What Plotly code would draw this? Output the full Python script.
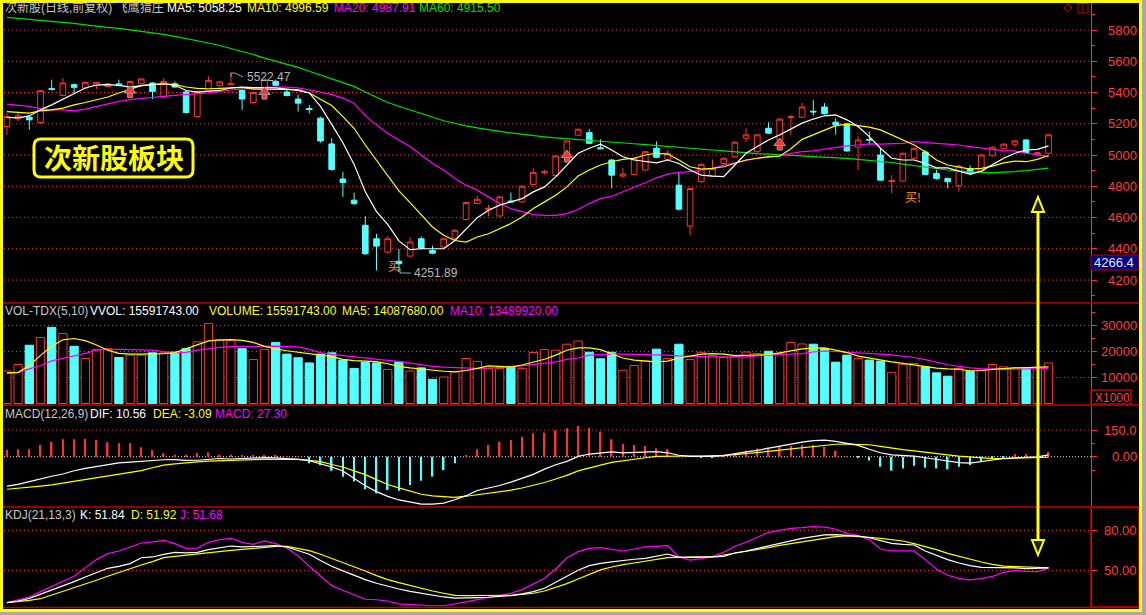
import plotly.graph_objects as go

# ---------------- data ----------------
days = list(range(94))

open_ = [5182,5231,5242,5208,5425,5381,5450,5429,5444,5439,
         5455,5429,5457,5461,5371,5456,5403,5246,5413,5444,
         5450,5413,5336,5413,5471,5403,5358,5297,5236,5071,
         4846,4711,4550,4464,4378,4320,4353,4464,4389,4411,
         4464,4587,4689,4650,4610,4705,4700,4811,4886,4869,
         4989,5127,5143,5046,4968,4865,4876,4904,5043,4972,
         4807,4545,4829,4865,4946,4989,5107,5021,5171,5096,
         5240,5242,5280,5307,5210,5199,5050,5100,5000,4830,
         4833,4979,5019,4882,4850,4803,4914,4893,4996,5043,
         5069,5096,5000,5011]
high = [5270,5278,5250,5413,5482,5493,5458,5470,5470,5462,
        5482,5475,5492,5466,5493,5470,5410,5412,5503,5475,
        5522.47,5420,5405,5488,5478,5420,5386,5320,5245,5107,
        4893,4760,4608,4496,4479,4400,4475,4480,4420,4470,
        4525,4700,4740,4680,4740,4760,4805,4915,4905,5000,
        5095,5170,5165,5101,4975,4918,4985,5025,5086,5032,
        4886,4790,4945,4972,4985,5090,5171,5135,5210,5235,
        5257,5333,5354,5332,5235,5205,5120,5150,5040,4871,
        5015,5047,5030,4905,4855,4935,4935,5005,5055,5075,
        5095,5102,5020,5135]
low = [5129,5214,5161,5204,5413,5375,5397,5420,5424,5432,
       5440,5420,5450,5358,5365,5430,5265,5240,5405,5438,
       5445,5289,5330,5405,5440,5375,5278,5265,5079,4899,
       4732,4680,4360,4261,4370,4251.89,4345,4395,4365,4405,
       4458,4580,4685,4610,4605,4698,4695,4808,4875,4865,
       4985,5122,5070,5040,4786,4860,4870,4900,4980,4965,
       4645,4486,4820,4860,4940,4983,5085,5015,5135,5090,
       5129,5238,5251,5260,5129,5020,4904,5064,4835,4754,
       4828,4975,4870,4842,4786,4765,4878,4888,4990,5038,
       5050,5010,4995,5005]
close = [5246,5251,5225,5412,5420,5461,5433,5465,5465,5456,
         5444,5471,5487,5407,5471,5435,5272,5407,5476,5468,
         5456,5358,5400,5482,5446,5381,5332,5291,5090,4908,
         4824,4689,4368,4417,4464,4304,4443,4404,4372,4464,
         4518,4696,4717,4660,4732,4700,4800,4889,4893,4994,
         5090,5165,5075,5040,4871,4878,4979,5021,4985,5011,
         4653,4786,4940,4914,4979,5082,5129,5129,5140,5230,
         5245,5307,5276,5264,5193,5026,5096,5096,4839,4836,
         5011,5043,4876,4850,4829,4929,4882,5000,5050,5069,
         5090,5015,5015,5129]

ma5 = [5240,5238,5250,5289,5321,5358,5397,5429,5448,5450,
       5446,5435,5444,5452,5456,5446,5413,5403,5407,5413,
       5429,5435,5431,5429,5429,5422,5413,5397,5311,5196,
       5078,4940,4765,4638,4556,4450,4394,4400,4400,4400,
       4453,4529,4599,4646,4679,4700,4721,4764,4796,4860,
       4936,5011,5043,5069,5032,4989,4968,4961,4950,4968,
       4946,4904,4871,4865,4861,4936,5011,5054,5096,5129,
       5165,5204,5230,5251,5257,5225,5182,5118,5043,4979,
       4968,4968,4946,4918,4918,4899,4876,4897,4936,4979,
       5011,5032,5036,5058.25]
ma10 = [5278,5272,5268,5283,5289,5300,5321,5336,5354,5371,
        5397,5418,5444,5450,5455,5450,5435,5427,5424,5427,
        5431,5433,5422,5422,5422,5422,5418,5397,5358,5317,
        5246,5171,5064,4968,4871,4770,4695,4614,4539,4486,
        4453,4443,4475,4496,4529,4561,4603,4657,4700,4743,
        4796,4865,4904,4936,4957,4972,4979,5000,5011,5006,
        4968,4925,4910,4914,4925,4946,4968,4979,4989,4992,
        5040,5100,5129,5161,5188,5197,5188,5178,5161,5129,
        5096,5064,5021,4968,4936,4921,4910,4914,4929,4950,
        4961,4957,4972,4996.59]
ma20 = [5326,5317,5311,5296,5289,5289,5283,5294,5311,5328,
        5343,5354,5362,5369,5375,5381,5386,5390,5397,5405,
        5416,5422,5429,5433,5435,5435,5429,5418,5403,5386,
        5364,5332,5252,5193,5139,5096,5054,5000,4946,4904,
        4850,4807,4775,4732,4689,4657,4635,4618,4614,4614,
        4625,4651,4689,4721,4736,4764,4796,4822,4854,4878,
        4889,4893,4904,4914,4936,4950,4968,4979,4985,4997,
        5011,5021,5026,5036,5050,5058,5064,5071,5069,5071,
        5075,5086,5082,5075,5069,5064,5054,5047,5036,5028,
        5026,5011,5004,4987.91]
ma60 = [5881,5875,5868,5862,5855,5849,5842,5833,5823,5817,
        5810,5801,5791,5781,5772,5759,5746,5733,5717,5701,
        5682,5662,5643,5620,5600,5581,5561,5536,5511,5485,
        5460,5439,5403,5367,5336,5312,5289,5264,5241,5219,
        5203,5186,5174,5161,5151,5141,5132,5122,5116,5109,
        5104,5101,5096,5090,5084,5078,5072,5066,5061,5055,
        5050,5044,5039,5032,5026,5019,5013,5009,5005,5000,
        4997,4994,4990,4987,4983,4979,4972,4966,4959,4952,
        4942,4932,4923,4913,4904,4897,4892,4889,4887,4889,
        4894,4900,4907,4915.5]

volume = [12500,15000,22400,25400,29300,26900,22000,17300,20800,21100,
          17700,18600,18600,19500,19500,19800,21100,23700,30800,24300,
          24300,21100,16900,20800,23500,19000,17600,15600,19000,19500,
          16700,13500,15900,15600,13100,16000,12500,13700,9300,10200,
          12200,17300,16200,13500,13500,14300,13500,19600,20800,20500,
          22800,24000,19700,17200,19700,12800,14600,16300,20900,17300,
          22800,16900,19700,18500,17700,18000,19800,19200,20100,19200,
          23500,22900,22800,21000,15900,18600,17300,16700,16300,12000,
          15100,15400,14100,11800,10500,13500,12400,12800,15000,14100,
          13800,13800,13800,15592]
vol_ma5 = [11800,12000,14500,18500,22000,24500,25000,24200,22500,20500,
           19300,19000,19000,19000,19200,19600,21000,22500,24100,24500,
           24600,24300,23500,22000,21000,20300,19700,19100,18600,18000,
           17000,16500,16300,16100,15300,14300,13700,13200,12800,12400,
           12200,12700,13500,14500,14300,14000,14800,16000,17000,18600,
           20500,21400,21400,20700,19000,17500,16700,16300,16000,16300,
           17500,18200,19000,19200,19000,18400,18600,18800,18800,19500,
           20300,21000,21300,21400,20500,19600,18200,17400,16800,16000,
           15400,14800,14300,13600,13300,13100,12600,12700,13100,13500,
           13700,13800,13900,14088]
vol_ma10 = [11500,11900,13300,14600,16400,17300,18300,19300,20500,20800,
            20800,20700,20600,20500,20000,19600,19700,20500,21000,21600,
            21900,22000,22100,22200,22100,22000,21800,20800,19600,18900,
            18400,17900,17400,17000,16600,16200,15600,14900,14300,14000,
            13800,13600,13500,13600,13800,14100,14500,15000,15500,16000,
            17000,17500,18600,18900,19000,19000,18900,18800,18800,18600,
            18300,18100,17900,17900,17900,17900,17900,18300,18700,18900,
            19000,19200,19800,20200,20000,19800,19500,19300,19000,18700,
            18200,17700,16900,16000,14900,14300,13700,13400,13200,13100,
            13200,13300,13400,13490]

dif = [-165,-155,-140,-124,-110,-97,-79,-66,-55,-44,
       -35,-30,-25,-19,-17,-16,-21,-20,-13,-10,
       -13,-10,-7,-5,-7,-10,-15,-22,-39,-58,
       -80,-120,-163,-196,-223,-243,-256,-266,-266,-261,
       -242,-219,-190,-176,-162,-143,-121,-99,-70,-45,
       -26,2,15,23,27,22,24,28,28,22,
       8,2,0,2,6,18,27,36,48,61,
       73,82,90,93,86,76,64,42,22,10,
       6,3,-6,-14,-26,-33,-36,-27,-19,-10,
       -6,-4,-1,10.56]
dea = [-183,-178,-172,-165,-158,-148,-138,-128,-120,-110,
       -102,-92,-78,-62,-47,-40,-33,-29,-25,-22,
       -20,-18,-16,-15,-15,-15,-15,-20,-28,-44,
       -58,-80,-101,-129,-156,-175,-194,-211,-220,-226,
       -228,-222,-214,-206,-199,-188,-176,-162,-145,-125,
       -105,-80,-62,-47,-32,-22,-13,-6,2,4,
       4,4,4,5,7,12,17,23,30,37,
       44,51,58,65,70,71,71,67,58,47,
       40,33,24,17,10,3,-3,-9,-11,-11,
       -10,-7,-5,-3.09]
macd = [37,42,42,66,84,98,98,100,94,81,
        75,75,53,37,19,11,11,22,24,11,
        11,9,5,9,9,3,2,-37,-48,-79,
        -112,-140,-183,-206,-187,-191,-159,-135,-112,-75,
        -37,5,42,66,84,94,112,131,135,148,
        160,173,162,141,98,71,66,60,47,42,
        3,2,-5,-5,2,19,34,47,53,60,
        62,66,66,56,34,2,-5,-22,-56,-79,
        -66,-51,-62,-66,-71,-56,-47,-28,-9,-3,
        15,15,6,27.3]

k_line = [25.7,27,29,32,35,38,41.5,45,48.5,51.5,
          53,55,59.4,60,62,63.5,63,63.5,65.5,67,
          68.2,67.5,67.8,68.5,68.5,67.5,65,62,57.3,53,
          49.6,46,43,40.3,38,36,34.2,32.7,31.3,30,
          29.2,29.2,29.5,29.8,30.2,31,32.3,34,36.5,41,
          45,50,53.5,55.2,56.3,57.5,58.3,59,60.5,62.2,
          59.7,59.7,59.7,60,60.5,63,64.5,66.5,68.5,70.5,
          72.5,74,75.2,76.5,76.8,76.4,75.6,74.4,72.5,70.2,
          69.5,69,64.5,61,58,55.5,53.5,52.2,52.2,52.1,
          51.8,51.3,51.3,51.84]
d_line = [25.7,26.5,27.5,28.7,31.5,34,36.5,39.5,42.5,45.5,
          48.5,51.5,54,56.5,59.5,60.5,61.5,62.5,63.5,64.3,
          65,65.7,66.5,67.2,68,68,66.5,64.7,62,59,
          56,52.8,49.5,46,43,40.7,38.5,36.5,34.5,32.8,
          31.2,31,31,31,31,31.3,32,32.8,34.5,37,
          40,43.5,47,50.3,52.5,54.3,55.5,57,58.5,59.5,
          59.7,59.7,59.7,60,61.5,62.8,64.2,65.5,67,68.7,
          70,71.5,73,74.2,75.2,75.8,75.5,74.8,74,73,
          72,70,67.8,65.5,62.7,60.5,58.3,56.2,54.5,53.2,
          52.8,52.5,52.2,51.92]
j_line = [25.7,28,30,34,38,42,45.5,52,58,62.5,
          64.5,67.5,70.5,71.3,72.5,70,66.5,66.7,71,73,
          74,71,69.5,72,70,66.7,61,53,46,38.5,
          35,31.5,28.3,27.9,27,24.8,24.3,23.4,23.4,23.4,
          24.6,26.3,28,29.8,31,32.8,35.5,40,44,51,
          59.5,64,66.5,67,65.5,64.5,66,67.5,68,68.5,
          60.2,57.7,58.7,60.5,63.5,68,71,75,78.5,80,
          81.5,82,82.7,82.4,81,77.7,76.3,73,66,64.5,
          64.5,64.5,58,51,46.3,44,42.8,43.8,45.5,48.5,
          50,49.2,49,51.68]

signal_days = [11, 23, 50, 69]
signal_price = [5400, 5390, 4987, 5064]

price_ticks = [4200, 4400, 4600, 4800, 5000, 5200, 5400, 5600, 5800]
vol_ticks = [10000, 20000, 30000]
macd_ticks = [0, 150]
kdj_ticks = [50, 80]

# ---------------- style ----------------
RED = '#ff3232'
CYAN = '#54ffff'
YEL = '#ffff00'
MAG = '#ff00ff'
GRN = '#00e000'
WHITE = '#ffffff'
GRAY = '#c8c8c8'
AXRED = '#ff3c3c'
FONT = 'Liberation Sans, Noto Sans CJK SC, sans-serif'
CJK = 'Noto Sans CJK SC, sans-serif'

W, H = 1146, 615
L, R, T, B = 4, 55, 3, 8
PW, PH = W - L - R, H - T - B


def px(x):
    return (x - L) / PW


def py(y):
    return (H - B - y) / PH


def lin(v1, y1, v2, y2):
    k = (v2 - v1) / (y2 - y1)
    return lambda y: v1 + (y - y1) * k


def xi(x):
    return (x - 6.9) / 11.2


price_at = lin(5800, 30, 4200, 280)
vol_at = lin(30000, 325.5, 10000, 377.5)
macd_at = lin(150, 430, 0, 456.7)
kdj_at = lin(80, 530.3, 50, 570.3)
PRICE_PER_PX = (price_at(0) - price_at(1))

up = [c >= o for o, c in zip(open_, close)]

fig = go.Figure()

# ---- price panel ----
fig.add_trace(go.Candlestick(
    x=days, open=open_, high=high, low=low, close=close,
    increasing=dict(line=dict(color=RED, width=1), fillcolor='black'),
    decreasing=dict(line=dict(color=CYAN, width=1), fillcolor=CYAN),
    whiskerwidth=0, xaxis='x', yaxis='y', hoverinfo='skip', showlegend=False))
for arr, col in [(ma60, GRN), (ma20, MAG), (ma10, YEL), (ma5, WHITE)]:
    fig.add_trace(go.Scatter(x=days, y=arr, mode='lines', line=dict(color=col, width=1.2),
                             xaxis='x', yaxis='y', hoverinfo='skip', showlegend=False))
# signal arrows: stem + head
fig.add_trace(go.Scatter(x=signal_days, y=[p - 2.5 * PRICE_PER_PX for p in signal_price], mode='markers',
                         marker=dict(symbol='square', size=5, color=RED,
                                     line=dict(color='#9a9a9a', width=1)),
                         xaxis='x', yaxis='y', hoverinfo='skip', showlegend=False))
fig.add_trace(go.Scatter(x=signal_days, y=[p + 2 * PRICE_PER_PX for p in signal_price], mode='markers',
                         marker=dict(symbol='triangle-up', size=10, color=RED,
                                     line=dict(color='#9a9a9a', width=1)),
                         xaxis='x', yaxis='y', hoverinfo='skip', showlegend=False))

# ---- volume panel ----
fig.add_trace(go.Bar(x=days, y=volume, width=0.74,
                     marker=dict(color=['black' if u else CYAN for u in up],
                                 line=dict(color=[RED if u else CYAN for u in up], width=1)),
                     xaxis='x', yaxis='y2', hoverinfo='skip', showlegend=False))
for arr, col in [(vol_ma10, MAG), (vol_ma5, YEL)]:
    fig.add_trace(go.Scatter(x=days, y=arr, mode='lines', line=dict(color=col, width=1.2),
                             xaxis='x', yaxis='y2', hoverinfo='skip', showlegend=False))

# ---- MACD panel ----
fig.add_trace(go.Bar(x=days, y=macd, width=0.14,
                     marker=dict(color=[RED if v >= 0 else CYAN for v in macd], line=dict(width=0)),
                     xaxis='x', yaxis='y3', hoverinfo='skip', showlegend=False))
for arr, col in [(dea, YEL), (dif, WHITE)]:
    fig.add_trace(go.Scatter(x=days, y=arr, mode='lines', line=dict(color=col, width=1.2),
                             xaxis='x', yaxis='y3', hoverinfo='skip', showlegend=False))

# ---- KDJ panel ----
for arr, col in [(j_line, MAG), (d_line, YEL), (k_line, WHITE)]:
    fig.add_trace(go.Scatter(x=days, y=arr, mode='lines', line=dict(color=col, width=1.2),
                             xaxis='x', yaxis='y4', hoverinfo='skip', showlegend=False))


def yax(top, bot, f, ticks, minor_vals):
    return dict(domain=[py(bot), py(top)], range=[f(bot), f(top)], side='right', anchor='x',
                showgrid=False, zeroline=False, showline=True, linecolor=RED, linewidth=1,
                ticks='outside', ticklen=5, tickcolor=RED, tickvals=ticks, showticklabels=False,
                minor=dict(tickvals=minor_vals, ticks='outside', ticklen=3, tickcolor=RED, showgrid=False),
                fixedrange=True)


price_minor = [v + 100 for v in price_ticks] + [price_ticks[0] - 100]
vol_minor = [v - 5000 for v in vol_ticks] + [vol_ticks[-1] + 5000]
macd_minor = [macd_ticks[1] / 2, -macd_ticks[1] / 2]

fig.update_layout(
    width=W, height=H, margin=dict(l=L, r=R, t=T, b=B),
    paper_bgcolor='black', plot_bgcolor='black',
    showlegend=False, hovermode=False, barmode='overlay', boxgap=0.28, boxmode='overlay',
    xaxis=dict(range=[xi(4), xi(1091)], showgrid=False, zeroline=False, showticklabels=False,
               ticks='', showline=False, rangeslider=dict(visible=False), fixedrange=True),
    yaxis=yax(3, 303, price_at, price_ticks, price_minor),
    yaxis2=yax(303, 405, vol_at, vol_ticks, vol_minor),
    yaxis3=yax(405, 507, macd_at, macd_ticks, macd_minor),
    yaxis4=yax(507, 607, kdj_at, kdj_ticks, []),
)

shapes = []
DOT = '1px,3px'


def hline(yref, v, color=RED, dash=DOT):
    shapes.append(dict(type='line', xref='paper', yref=yref, x0=0, x1=1, y0=v, y1=v,
                       line=dict(color=color, width=1, dash=dash), layer='below'))


for v in price_ticks:
    hline('y', v)
for v in vol_ticks:
    hline('y2', v)
hline('y3', macd_ticks[1])
hline('y3', macd_ticks[0], color='#e0e0e0', dash='1px,2px')
for v in kdj_ticks:
    hline('y4', v)

# panel separators
for ysep in [303, 405, 507, 607.5]:
    shapes.append(dict(type='line', xref='paper', yref='paper', x0=px(3), x1=px(1140),
                       y0=py(ysep), y1=py(ysep), line=dict(color='#c00000', width=1.5)))

# boxes on right axis
shapes.append(dict(type='rect', xref='paper', yref='paper', x0=px(1091), x1=px(1131),
                   y0=py(390), y1=py(404), line=dict(color='#c00000', width=1.5)))
shapes.append(dict(type='rect', xref='paper', yref='paper', x0=px(1091), x1=px(1139),
                   y0=py(507.5), y1=py(607), line=dict(color='#c00000', width=1.5)))
shapes.append(dict(type='rect', xref='paper', yref='paper', x0=px(1091), x1=px(1139),
                   y0=py(255), y1=py(270), fillcolor='#000080', line=dict(color='#c00000', width=1)))

# top-right small icons
shapes.append(dict(type='path', xref='paper', yref='paper',
                   path=f'M {px(1068)},{py(4)} L {px(1072)},{py(8)} L {px(1068)},{py(12)} L {px(1064)},{py(8)} Z',
                   line=dict(color='#c00000', width=1)))
shapes.append(dict(type='rect', xref='paper', yref='paper', x0=px(1078), x1=px(1088),
                   y0=py(3.5), y1=py(13), line=dict(color='#c00000', width=1)))
shapes.append(dict(type='line', xref='paper', yref='paper', x0=px(1083), x1=px(1083),
                   y0=py(3.5), y1=py(13), line=dict(color='#c00000', width=1)))

# rounded box for the big label
x0b, x1b, y0b, y1b, rr = 34, 193, 139, 177, 7
pts = (f'M {px(x0b + rr)},{py(y0b)} L {px(x1b - rr)},{py(y0b)} Q {px(x1b)},{py(y0b)} {px(x1b)},{py(y0b + rr)} '
       f'L {px(x1b)},{py(y1b - rr)} Q {px(x1b)},{py(y1b)} {px(x1b - rr)},{py(y1b)} '
       f'L {px(x0b + rr)},{py(y1b)} Q {px(x0b)},{py(y1b)} {px(x0b)},{py(y1b - rr)} '
       f'L {px(x0b)},{py(y0b + rr)} Q {px(x0b)},{py(y0b)} {px(x0b + rr)},{py(y0b)} Z')
shapes.append(dict(type='path', xref='paper', yref='paper', path=pts,
                   line=dict(color=YEL, width=3), fillcolor='black'))

# yellow double arrow
ax_x = 1038
shapes.append(dict(type='line', xref='paper', yref='paper', x0=px(ax_x), x1=px(ax_x),
                   y0=py(211), y1=py(540), line=dict(color=YEL, width=3)))
shapes.append(dict(type='path', xref='paper', yref='paper',
                   path=f'M {px(ax_x)},{py(197)} L {px(ax_x + 6)},{py(212)} L {px(ax_x - 6)},{py(212)} Z',
                   line=dict(color=YEL, width=2), fillcolor='#202000'))
shapes.append(dict(type='path', xref='paper', yref='paper',
                   path=f'M {px(ax_x)},{py(555)} L {px(ax_x + 6)},{py(540)} L {px(ax_x - 6)},{py(540)} Z',
                   line=dict(color=YEL, width=2), fillcolor='#202000'))

# 5522.47 hook
shapes.append(dict(type='path', xref='paper', yref='paper',
                   path=f'M {px(231)},{py(77)} L {px(231)},{py(73)} L {px(235)},{py(73)} L {px(243)},{py(77)}',
                   line=dict(color='#a0a0a0', width=1)))
# 4251.89 pointer
shapes.append(dict(type='path', xref='paper', yref='paper',
                   path=f'M {px(400)},{py(268)} L {px(400)},{py(273)} L {px(411)},{py(273)}',
                   line=dict(color='#a0a0a0', width=1)))

# outer yellow frame + grey strip
shapes.append(dict(type='rect', xref='paper', yref='paper', x0=px(1141), x1=px(1146),
                   y0=py(0), y1=py(615), fillcolor='#a8a8a8', line=dict(width=0)))
shapes.append(dict(type='rect', xref='paper', yref='paper', x0=px(0), x1=px(1146),
                   y0=py(612), y1=py(615), fillcolor='#a8a8a8', line=dict(width=0)))
shapes.append(dict(type='rect', xref='paper', yref='paper', x0=px(1.5), x1=px(1140.5),
                   y0=py(1.5), y1=py(610.5), line=dict(color=YEL, width=3)))

fig.update_layout(shapes=shapes)

ann = []


def txt(x, y, s, color, size=12, xanchor='left', family=FONT):
    ann.append(dict(x=px(x), y=py(y), xref='paper', yref='paper', text=s, showarrow=False,
                    xanchor=xanchor, yanchor='middle', font=dict(color=color, size=size, family=family)))


# title rows
txt(3, 8, '次新股(日线,前复权) 飞鹰猎庄', GRAY)
txt(165, 8, 'MA5: 5058.25', WHITE)
txt(245, 8, 'MA10: 4996.59', YEL)
txt(332, 8, 'MA20: 4987.91', MAG)
txt(417, 8, 'MA60: 4915.50', GRN)

txt(3, 311, 'VOL-TDX(5,10)', GRAY)
txt(88, 311, 'VVOL: 15591743.00', WHITE)
txt(207, 311, 'VOLUME: 15591743.00', YEL)
txt(340, 311, 'MA5: 14087680.00', YEL)
txt(448, 311, 'MA10: 13489920.00', MAG)

txt(3, 414, 'MACD(12,26,9)', GRAY)
txt(88, 414, 'DIF: 10.56', WHITE)
txt(151, 414, 'DEA: -3.09', YEL)
txt(213, 414, 'MACD: 27.30', MAG)

txt(3, 515, 'KDJ(21,13,3)', GRAY)
txt(78, 515, 'K: 51.84', WHITE)
txt(129, 515, 'D: 51.92', YEL)
txt(178, 515, 'J: 51.68', MAG)

# right axis labels
for axis, vals, fmt in [('y', price_ticks, '{:.0f}'), ('y2', vol_ticks, '{:.0f}'),
                        ('y3', macd_ticks, None), ('y4', kdj_ticks, '{:.2f}')]:
    for v in vals:
        if fmt is None:
            s = '0.00' if v == 0 else f'{v:.1f}'
        else:
            s = fmt.format(v)
        ann.append(dict(x=px(1139), y=v, xref='paper', yref=axis, text=s, showarrow=False,
                        xanchor='right', yanchor='middle',
                        font=dict(color=AXRED, size=13, family='Liberation Sans')))

txt(1093, 397.5, 'X1000', AXRED, size=12)
txt(1092, 262.5, '4266.4', '#e8e8e8', size=13)

# annotations on price panel
txt(245, 77, '5522.47', '#b8b8b8', size=12)
txt(412, 273, '4251.89', '#b8b8b8', size=12)
txt(386, 266, '买', '#ff9a1e', size=12, family=CJK)
txt(903, 197, '买!', '#ff9a1e', size=12, family=CJK)

txt(113.5, 157.5, '<b>次新股板块</b>', YEL, size=28, xanchor='center', family=CJK)

fig.update_layout(annotations=ann)

fig.write_html('out.html', config={'displayModeBar': False},
               post_script="document.body.style.margin='0';document.body.style.overflow='hidden';")
